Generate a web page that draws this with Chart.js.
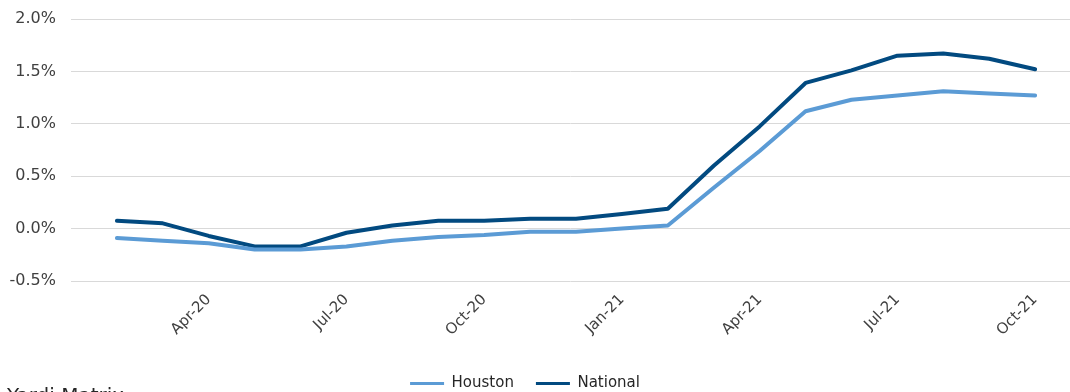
<!DOCTYPE html>
<html>
<head>
<meta charset="utf-8">
<script src="https://cdn.jsdelivr.net/npm/chart.js@4"></script>
<style>
    html, body { margin: 0; padding: 0; background: #ffffff; overflow: hidden; }
    #wrap { position: relative; width: 1070px; height: 401px; }
    #source {
        position: absolute; left: 7px; top: 385px;
        font-family: "DejaVu Sans", sans-serif; font-size: 20px; line-height: 20px;
        color: #262626; white-space: nowrap;
    }
</style>
</head>
<body>
<div id="wrap">
    <canvas id="rentChart"></canvas>
    <div id="source">Yardi Matrix</div>
</div>
<script>
// Months shown on the chart (Feb-20 .. Oct-21)
const months = ['Feb-20', 'Mar-20', 'Apr-20', 'May-20', 'Jun-20', 'Jul-20', 'Aug-20', 'Sep-20', 'Oct-20',
    'Nov-20', 'Dec-20', 'Jan-21', 'Feb-21', 'Mar-21', 'Apr-21', 'May-21', 'Jun-21', 'Jul-21', 'Aug-21',
    'Sep-21', 'Oct-21'];

// Values in percent
const houston = [-0.09, -0.115, -0.14, -0.20, -0.20, -0.17, -0.115, -0.08, -0.06, -0.03, -0.03, 0.0, 0.03,
    0.39, 0.74, 1.12, 1.23, 1.27, 1.31, 1.29, 1.27];
const national = [0.075, 0.05, -0.07, -0.17, -0.17, -0.04, 0.03, 0.075, 0.075, 0.095, 0.095, 0.14, 0.19,
    0.60, 0.975, 1.39, 1.51, 1.65, 1.67, 1.62, 1.52];

// Y axis ticks
const yTicks = [-0.5, 0.0, 0.5, 1.0, 1.5, 2.0];

const fontFamily = '"DejaVu Sans", sans-serif';

// months sit at x = 1, 2, ... (x = 0 is the empty slot before Feb-20)
function toPoints(values) {
    return values.map((v, i) => ({ x: i + 1, y: v }));
}

const rentChart = new Chart(document.getElementById('rentChart'), {
    type: 'line',
    data: {
        datasets: [{
            label: 'Houston',
            data: toPoints(houston),
            borderColor: '#5b9bd5',
            backgroundColor: '#5b9bd5',
            borderWidth: 4,
            pointRadius: 0,
            borderCapStyle: 'round',
            borderJoinStyle: 'round'
        }, {
            label: 'National',
            data: toPoints(national),
            borderColor: '#024a80',
            backgroundColor: '#024a80',
            borderWidth: 4,
            pointRadius: 0,
            borderCapStyle: 'round',
            borderJoinStyle: 'round'
        }]
    },
    options: {
        responsive: true,
        maintainAspectRatio: false,
        animation: false,
        layout: {
            padding: { left: -20, right: 0, top: 19, bottom: 0 }
        },
        scales: {
            x: {
                type: 'linear',
                min: 0,
                max: 21.76,
                grid: { display: false },
                border: { display: false },
                ticks: {
                    stepSize: 1,
                    autoSkip: false,
                    minRotation: 45,
                    maxRotation: 45,
                    padding: 2,
                    color: '#404040',
                    font: { family: fontFamily, size: 15 },
                    callback: function(value) {
                        if (Number.isInteger(value) && value > 0 && value % 3 === 0) {
                            return months[value - 1];
                        }
                        return '';
                    }
                },
                afterFit: function(axis) {
                    axis.height = 73;
                    axis.paddingLeft = 0;
                    axis.paddingRight = 0;
                }
            },
            y: {
                min: yTicks[0],
                max: yTicks[yTicks.length - 1],
                grid: { color: '#d9d9d9', lineWidth: 1, drawTicks: false },
                border: { display: false },
                ticks: {
                    stepSize: 0.5,
                    padding: 15,
                    color: '#404040',
                    font: { family: fontFamily, size: 16 },
                    callback: function(value) {
                        return value.toFixed(1) + '%';
                    }
                },
                afterFit: function(axis) {
                    axis.width = 91;
                    axis.paddingTop = 0;
                    axis.paddingBottom = 0;
                }
            }
        },
        plugins: {
            tooltip: { enabled: false },
            legend: {
                position: 'bottom',
                labels: {
                    boxWidth: 34,
                    boxHeight: 3,
                    padding: 22,
                    color: '#262626',
                    font: { family: fontFamily, size: 15 },
                    generateLabels: function(chart) {
                        const items = Chart.defaults.plugins.legend.labels.generateLabels(chart);
                        items.forEach(item => { item.lineWidth = 0; });
                        return items;
                    }
                }
            }
        }
    }
});
</script>
</body>
</html>
